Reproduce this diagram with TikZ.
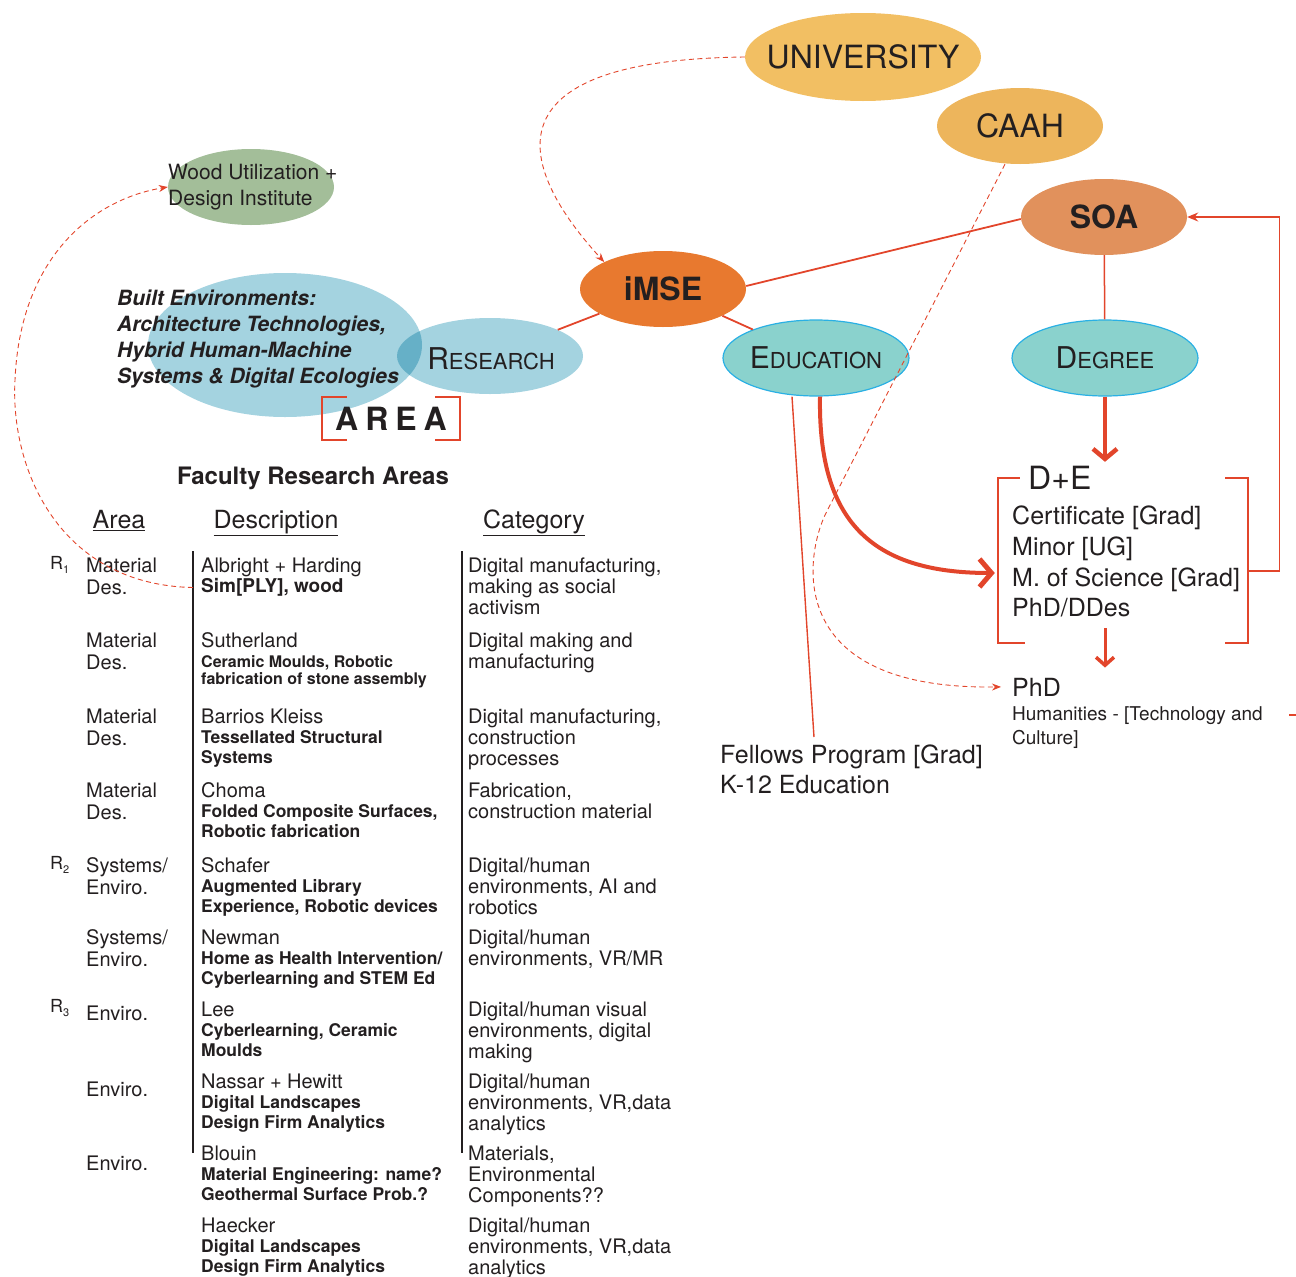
\documentclass[tikz,border=0pt]{standalone}
\usepackage{fontspec}
\setmainfont{TeX Gyre Heros}
\usepackage{tikz}
\usetikzlibrary{shapes,arrows.meta}
\definecolor{linkred}{RGB}{226,69,43}
\definecolor{unicol}{RGB}{242,191,99}
\definecolor{caahcol}{RGB}{237,181,92}
\definecolor{soacol}{RGB}{225,145,92}
\definecolor{imsecol}{RGB}{232,121,47}
\definecolor{researchcol}{RGB}{164,211,224}
\definecolor{overlapcol}{RGB}{102,176,199}
\definecolor{trackcol}{RGB}{138,210,205}
\definecolor{trackline}{RGB}{42,176,228}
\definecolor{woodcol}{RGB}{163,190,153}
\definecolor{ink}{RGB}{35,31,32}
\newcommand{\sizeto}[1]{\fontsize{#1}{#1}\selectfont}
\newcommand{\smcap}[2]{{\sizeto{30}#1}{\sizeto{22}#2}}
\tikzstyle{blob}=[ellipse, inner sep=0pt]
\tikzstyle{unibox}=[blob, fill=unicol, minimum width=236pt, minimum height=88pt]
\tikzstyle{orgbox}=[blob, minimum width=166pt, minimum height=76pt]
\tikzstyle{researchbox}=[blob, fill=researchcol, minimum width=186pt, minimum height=76pt]
\tikzstyle{trackbox}=[blob, fill=trackcol, draw=trackline, line width=1.2pt, minimum width=186pt, minimum height=76pt]
\tikzstyle{blobtext}=[inner sep=0pt, text=ink, font=\sizeto{32}]
\tikzstyle{textline}=[inner sep=0pt, text=ink, anchor=base west]
\tikzstyle{textblk}=[inner sep=0pt, text=ink, anchor=north west, align=left]
\tikzstyle{link}=[draw=linkred, line width=1.8pt]
\tikzstyle{flow}=[draw=linkred, line width=4pt]
\tikzstyle{dlink}=[draw=linkred, line width=0.9pt, dash pattern=on 5pt off 3.5pt, -{Stealth[length=9pt,width=7pt]}]
\tikzstyle{bracket}=[draw=linkred, line width=2pt]
\tikzstyle{rule}=[draw=ink, line width=1.6pt]
\tikzstyle{facarea}=[textblk, font=\fontsize{20}{22}\selectfont]
\tikzstyle{facname}=[textline, font=\fontsize{20}{20}\selectfont]
\tikzstyle{faccat}=[textblk, font=\fontsize{20}{21}\selectfont]
\tikzstyle{header}=[inner sep=0pt, text=ink, anchor=base, font=\sizeto{25}]
\newcommand{\blob}[4]{
	\node[#1] (#2) at (#3) {};
	\node[blobtext] (#2text) at (#3) {#4};}
% row: id, baseline, name, desc size, desc skip, desc, category
\newcommand{\facrow}[7]{
	\node[facname] (#1name) at (201,#2) {#3};
	\node[textblk, font=\bfseries\fontsize{#4}{#5}\selectfont] (#1desc) at (201,#2+20-0.72*#4) {#6};
	\node[faccat] (#1cat) at (468,#2-14.4) {#7};}

\begin{document}
\begin{tikzpicture}[x=1pt,y=-1pt]
	\useasboundingbox (0,0) rectangle (1296,1277);

	\blob{unibox}{uni}{863,57}{UNIVERSITY}
	\blob{orgbox,fill=caahcol}{caah}{1020,126}{CAAH}
	\blob{orgbox,fill=soacol}{soa}{1104,217}{\bfseries SOA}
	\blob{orgbox,fill=imsecol}{imse}{663,289}{\bfseries iMSE}
	\blob{trackbox}{edu}{816,358}{\smcap{E}{DUCATION}}
	\blob{trackbox}{degree}{1105,358}{\smcap{D}{EGREE}}

	% research area
	\node[researchbox, minimum width=274pt, minimum height=144pt] (built) at (285,345) {};
	\node[researchbox] (research) at (490,356) {};
	\begin{scope}
		\clip (built.center) ellipse [x radius=137pt, y radius=72pt];
		\fill[overlapcol] (research.center) ellipse [x radius=93pt, y radius=38pt];
	\end{scope}
	\node[blobtext] (researchtext) at (491,359) {\smcap{R}{ESEARCH}};
	\node[textblk, font=\bfseries\itshape\fontsize{21}{26}\selectfont] (builttext) at (117,290)
		{Built Environments:\\Architecture Technologies,\\Hybrid Human-Machine\\Systems \& Digital Ecologies};
	\node[inner sep=0pt, minimum width=138pt, minimum height=43pt, text=ink, font=\bfseries\sizeto{32}] (area) at (391,418.5)
		{A\hspace{7pt}R\hspace{7pt}E\hspace{7pt}A};
	\draw[bracket] ([xshift=25pt]area.north west) -- (area.north west) -- (area.south west) -- ([xshift=25pt]area.south west);
	\draw[bracket] ([xshift=-25pt]area.north east) -- (area.north east) -- (area.south east) -- ([xshift=-25pt]area.south east);

	\node[orgbox, fill=woodcol] (wood) at (251,187) {};
	\node[textblk, font=\fontsize{21}{26}\selectfont] (woodtext) at (168,164) {Wood Utilization +\\Design Institute};

	% degrees
	\node[inner sep=0pt, minimum width=250pt, minimum height=165pt] (deblock) at (1123,560.5) {};
	\node[textline, font=\sizeto{32}] (detitle) at (1028,489) {D+E};
	\node[textblk, font=\fontsize{25}{30.7}\selectfont] (delist) at (1012,506)
		{Certificate [Grad]\\Minor [UG]\\M. of Science [Grad]\\PhD/DDes};
	\draw[bracket] ([xshift=22pt]deblock.north west) -- (deblock.north west) -- (deblock.south west) -- ([xshift=27pt]deblock.south west);
	\draw[bracket] ([xshift=-23pt]deblock.north east) -- (deblock.north east) -- (deblock.south east) -- ([xshift=-23pt]deblock.south east);
	\node[textline, font=\sizeto{25}] (phd) at (1012,696) {PhD};
	\node[textblk, font=\fontsize{19}{24}\selectfont] (humanities) at (1012,706) {Humanities - [Technology and\\Culture]};
	\node[textblk, font=\fontsize{25}{30}\selectfont] (fellows) at (720,745) {Fellows Program [Grad]\\K-12 Education};
	\coordinate (offright) at (1296,715);

	\draw[link] ([yshift=3pt]imse.east) -- ([yshift=-2pt]soa.west);
	\draw[link] (imse) -- (research);
	\draw[link] (imse) -- (edu);
	\draw[link, line width=1.5pt] (soa) -- (degree);
	\draw[link, line width=1.4pt] ([xshift=-24pt]edu.south) -- ([xshift=-37.5pt,yshift=8pt]fellows.north);
	\draw[flow, -{Straight Barb[length=12pt,width=28pt,line width=5pt]}] ([xshift=4pt]edu.south) .. controls (818,520) and (870,573) .. ([xshift=-3pt,yshift=-12.5pt]deblock.west);
	\draw[flow, -{Straight Barb[length=10pt,width=24pt,line width=4.5pt]}] (degree.south) -- ([yshift=16pt]degree.south |- deblock.north);
	\draw[flow, line width=3pt, -{Straight Barb[length=8pt,width=18pt,line width=3.5pt]}] ([yshift=15pt]deblock.south -| degree.south) -- ([yshift=10pt]phd.north -| degree.south);
	\draw[link, line width=1.4pt, -{Stealth[length=11pt,width=9pt]}] ([yshift=-10.5pt]deblock.east) -- ++(31,0) |- (soa.east);
	\draw[link, line width=1.4pt] ([xshift=-7pt]offright) -- (offright);

	\draw[dlink] (uni.west) .. controls (480,60) and (520,170) .. (imse.north west);
	\draw[dlink] ([xshift=-15pt]caah.south) -- (826,513) .. controls (806,553) and (780,690) .. ([xshift=-11pt]phd.west);

	% faculty table
	\node[inner sep=0pt, text=ink, anchor=base, font=\bfseries\sizeto{24}] (title) at (313,484) {Faculty Research Areas};
	\node[header] (hdarea) at (119,528) {\underline{Area}};
	\node[header] (hddesc) at (276,528) {\underline{Description}};
	\node[header] (hdcat) at (534,528) {\underline{Category}};
	\draw[rule] (193,551) -- (193,1153);
	\draw[rule] (462,551) -- (462,1153);

	\node[textline, font=\sizeto{18}] (rone) at (50,569) {R\raisebox{-4pt}{\sizeto{11}1}};
	\node[textline, font=\sizeto{18}] (rtwo) at (50,869) {R\raisebox{-4pt}{\sizeto{11}2}};
	\node[textline, font=\sizeto{18}] (rthree) at (50,1012) {R\raisebox{-4pt}{\sizeto{11}3}};

	\node[facarea] (aone) at (86,557.6) {Material\\Des.};
	\node[facarea] (atwo) at (86,632.6) {Material\\Des.};
	\node[facarea] (athree) at (86,708.6) {Material\\Des.};
	\node[facarea] (afour) at (86,782.6) {Material\\Des.};
	\node[facarea] (afive) at (86,857.6) {Systems/\\Enviro.};
	\node[facarea] (asix) at (86,929.6) {Systems/\\Enviro.};
	\node[facarea] (aseven) at (86,1005.6) {Enviro.};
	\node[facarea] (aeight) at (86,1081.6) {Enviro.};
	\node[facarea] (anine) at (86,1155.6) {Enviro.};

	\facrow{one}{572}{Albright + Harding}{19}{20}{Sim[PLY], wood}{Digital manufacturing,\\making as social\\activism}
	\facrow{two}{647}{Sutherland}{16}{17}{Ceramic Moulds, Robotic\\fabrication of stone assembly}{Digital making and\\manufacturing}
	\facrow{three}{723}{Barrios Kleiss}{17.5}{20}{Tessellated Structural\\Systems}{Digital manufacturing,\\construction\\processes}
	\facrow{four}{797}{Choma}{17.5}{19.5}{Folded Composite Surfaces,\\Robotic fabrication}{Fabrication,\\construction material}
	\facrow{five}{872}{Schafer}{17.5}{20}{Augmented Library\\Experience, Robotic devices}{Digital/human\\environments, AI and\\robotics}
	\facrow{six}{944}{Newman}{17.5}{20}{Home as Health Intervention/\\Cyberlearning and STEM Ed}{Digital/human\\environments, VR/MR}
	\facrow{seven}{1016}{Lee}{17.5}{20}{Cyberlearning, Ceramic\\Moulds}{Digital/human visual\\environments, digital\\making}
	\facrow{eight}{1088}{Nassar + Hewitt}{17.5}{20}{Digital Landscapes\\Design Firm Analytics}{Digital/human\\environments, VR,data\\analytics}
	\facrow{nine}{1160}{Blouin}{17.5}{20}{Material Engineering: name?\\Geothermal Surface Prob.?}{Materials,\\Environmental\\Components??}
	\facrow{ten}{1232}{Haecker}{17.5}{20}{Digital Landscapes\\Design Firm Analytics}{Digital/human\\environments, VR,data\\analytics}

	\draw[dlink] ([xshift=-8pt]onedesc.west) .. controls (60,585) and (10,470) .. (15,380) .. controls (20,260) and (90,200) .. (wood.west);
\end{tikzpicture}
\end{document}
